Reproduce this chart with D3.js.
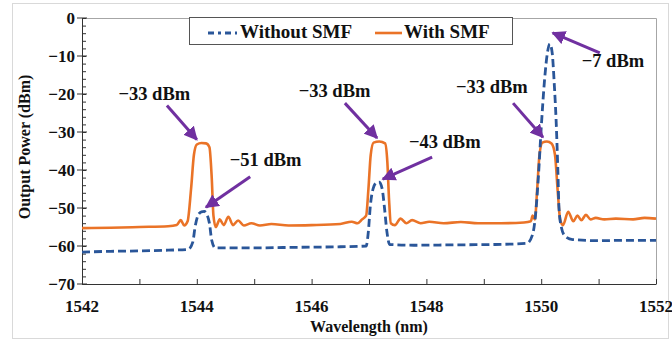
<!DOCTYPE html>
<html>
<head>
<meta charset="utf-8">
<script src="https://cdn.jsdelivr.net/npm/d3@7"></script>
</head>
<body style="margin:0;background:#fff">
<script>
// wavelengths (nm) and output power (dBm)
var blueWl = [1542.0,1542.5,1543.0,1543.5,1543.85,1543.93,1543.97,1544.02,1544.08,1544.13,1544.18,1544.22,1544.26,1544.32,
  1545.0,1545.5,1546.0,1546.5,1546.95,1546.99,1547.02,1547.07,1547.13,1547.18,1547.23,1547.27,1547.31,1547.36,
  1547.8,1548.5,1549.2,1549.75,1549.85,1549.9,1549.95,1550.0,1550.06,1550.11,1550.15,1550.19,1550.23,1550.26,1550.29,1550.31,1550.35,1550.42,1550.55,
  1551.0,1551.5,1552.0];
var bluePw = [-61.6,-61.4,-61.3,-61.1,-60.9,-59,-55,-52,-51.0,-50.9,-51.8,-54,-58.5,-60.5,
  -60.5,-60.4,-60.3,-60.2,-60.0,-56,-50,-45,-43.3,-43.2,-45,-50,-56,-59.6,
  -59.8,-59.7,-59.6,-59.3,-57,-52,-42,-29,-16,-9,-6.8,-9,-18,-27,-40,-50,-55,-57.5,-58.3,
  -58.6,-58.5,-58.5];

var orangeWl = [1542.0,1542.5,1543.0,1543.5,1543.65,1543.72,1543.78,1543.84,1543.9,1543.95,1544.0,1544.08,1544.16,1544.22,1544.26,1544.29,1544.33,
  1544.4,1544.47,1544.55,1544.63,1544.72,1544.82,1544.95,1545.1,1545.3,1545.6,1546.0,1546.5,1546.7,1546.8,1546.88,1546.95,
  1546.99,1547.03,1547.08,1547.18,1547.28,1547.32,1547.35,1547.38,1547.45,1547.55,1547.65,1547.75,1547.9,1548.05,1548.3,1548.6,1548.9,
  1549.3,1549.7,1549.82,1549.85,1549.89,1549.93,1549.97,1550.02,1550.1,1550.18,1550.24,1550.29,1550.33,1550.38,1550.47,1550.56,1550.63,
  1550.7,1550.78,1550.86,1550.95,1551.1,1551.3,1551.6,1551.8,1552.0];
var orangePw = [-55.3,-55.2,-55.0,-54.8,-54.5,-53.2,-54.6,-53.5,-45,-36,-33.3,-32.9,-33.0,-34,-42,-52,-55,
  -53,-54.5,-52.3,-54.5,-53.3,-54.6,-54.0,-54.6,-54.2,-54.6,-54.5,-54.2,-53.6,-54,-53,-52,
  -45,-36,-32.8,-32.5,-33,-38,-48,-54,-54.5,-52.8,-54.0,-53.2,-54,-53.6,-54,-53.7,-54,
  -54,-53.8,-53.5,-52,-53,-45,-36,-32.8,-32.5,-33,-36,-46,-53,-54.5,-51,-53.5,-52,
  -53.2,-51.8,-53,-52.6,-53,-52.8,-53,-52.6,-52.8];

var seriesNames = ["Without SMF", "With SMF"];
var xTicks = [1542, 1544, 1546, 1548, 1550, 1552];
var yTicks = [0, -10, -20, -30, -40, -50, -60, -70];

// peak annotations: label, label position, arrow tail, arrow tip (data units)
var notes = [
  {text: "\u221233 dBm", lx: 1543.26, ly: -21.6, tx: 1543.48, ty: -23.0, hx: 1544.0, hy: -32.0},
  {text: "\u221251 dBm", lx: 1545.2, ly: -39.0, tx: 1544.93, ty: -41.8, hx: 1544.16, hy: -49.8},
  {text: "\u221233 dBm", lx: 1546.4, ly: -20.8, tx: 1546.58, ty: -22.4, hx: 1547.14, hy: -31.6},
  {text: "\u221243 dBm", lx: 1548.32, ly: -34.2, tx: 1548.1, ty: -36.6, hx: 1547.24, hy: -42.4},
  {text: "\u221233 dBm", lx: 1549.14, ly: -19.7, tx: 1549.51, ty: -22.4, hx: 1550.03, hy: -31.4},
  {text: "\u22127 dBm", lx: 1551.25, ly: -12.9, tx: 1551.02, ty: -9.2, hx: 1550.2, hy: -3.9}
];

var FONT = "'Liberation Serif', 'Times New Roman', Times, serif";
var W = 672, H = 344;
var m = {left: 82, right: 16, top: 18, bottom: 60};

var svg = d3.select('body').append('svg').attr('width', W).attr('height', H)
  .attr('font-family', FONT).attr('font-weight', 'bold');

svg.append('rect').attr('x', 12.5).attr('y', 3.5).attr('width', 656).attr('height', 335)
  .attr('fill', 'none').attr('stroke', '#d9d9d9');

var x = d3.scaleLinear().domain([1542, 1552]).range([m.left, W - m.right]);
var y = d3.scaleLinear().domain([-70, 0]).range([H - m.bottom, m.top]);

function label(sel, size) {
  return sel.style('font-family', FONT).style('font-weight', 'bold')
    .style('font-size', size + 'px').attr('fill', '#111');
}

// plot frame (top and right)
svg.append('path')
  .attr('d', 'M' + x(1542) + ',' + (y(0) + 0.5) + 'H' + (x(1552) + 0.5) + 'V' + y(-70))
  .attr('fill', 'none').attr('stroke', '#a6a6a6');

// x axis
var xAxis = svg.append('g').attr('transform', 'translate(0,' + y(-70) + ')')
  .call(d3.axisBottom(x).tickValues(d3.range(1542, 1553, 1)).tickSizeInner(-5).tickSizeOuter(0).tickFormat(''));
xAxis.selectAll('line').attr('stroke', '#333');
xAxis.select('.domain').attr('stroke', '#333');
svg.append('g').selectAll('text').data(xTicks).join('text')
  .attr('x', d => x(d)).attr('y', y(-70) + 28)
  .attr('text-anchor', 'middle').call(label, 17).text(d => d);

// y axis
var yAxis = svg.append('g').attr('transform', 'translate(' + x(1542) + ',0)')
  .call(d3.axisLeft(y).tickValues(d3.range(-70, 1, 2)).tickSizeInner(-4).tickSizeOuter(0).tickFormat(''));
yAxis.selectAll('line').attr('stroke', '#333');
yAxis.select('.domain').attr('stroke', '#333');
svg.append('g').selectAll('line').data(yTicks).join('line')
  .attr('x1', x(1542) - 5).attr('x2', x(1542) + 5)
  .attr('y1', d => y(d)).attr('y2', d => y(d)).attr('stroke', '#333');
svg.append('g').selectAll('text').data(yTicks).join('text')
  .attr('x', x(1542) - 7).attr('y', d => y(d) + 6)
  .attr('text-anchor', 'end').call(label, 17).text(d => d3.format('d')(d));

svg.append('text').attr('transform', 'translate(30,' + ((y(0) + y(-70)) / 2 - 4) + ') rotate(-90)')
  .attr('text-anchor', 'middle').call(label, 16).text('Output Power (dBm)');
svg.append('text').attr('x', (x(1542) + x(1552)) / 2).attr('y', 332)
  .attr('text-anchor', 'middle').call(label, 16).text('Wavelength (nm)');

// curves
var line = d3.line().x(d => x(d[0])).y(d => y(d[1])).curve(d3.curveMonotoneX);
var blueData = d3.zip(blueWl, bluePw);
var orangeData = d3.zip(orangeWl, orangePw);

svg.append('path').datum(orangeData).attr('d', line)
  .attr('fill', 'none').attr('stroke', '#ea7327').attr('stroke-width', 2.6);
svg.append('path').datum(blueData).attr('d', line)
  .attr('fill', 'none').attr('stroke', '#2a5699').attr('stroke-width', 2.8)
  .attr('stroke-dasharray', '8,4');

// legend
var lg = svg.append('g');
lg.append('rect').attr('x', 189.5).attr('y', 17.5).attr('width', 323).attr('height', 27)
  .attr('fill', '#fff').attr('stroke', '#555');
lg.append('line').attr('x1', 208).attr('x2', 237).attr('y1', 33).attr('y2', 33)
  .attr('stroke', '#2a5699').attr('stroke-width', 2.8).attr('stroke-dasharray', '6,4,3,4');
lg.append('text').attr('x', 240).attr('y', 38).call(label, 19).text(seriesNames[0]);
lg.append('line').attr('x1', 375).attr('x2', 402).attr('y1', 33).attr('y2', 33)
  .attr('stroke', '#ea7327').attr('stroke-width', 2.6);
lg.append('text').attr('x', 404).attr('y', 38).call(label, 19).text(seriesNames[1]);

// annotations
var defs = svg.append('defs');
defs.append('marker').attr('id', 'ah').attr('viewBox', '0 0 10 10').attr('refX', 9).attr('refY', 5)
  .attr('markerWidth', 4.6).attr('markerHeight', 4.6).attr('orient', 'auto')
  .append('path').attr('d', 'M0,0L10,5L0,10z').attr('fill', '#7030a0');

var ann = svg.append('g').selectAll('g').data(notes).join('g');
ann.append('line')
  .attr('x1', d => x(d.tx)).attr('y1', d => y(d.ty))
  .attr('x2', d => x(d.hx)).attr('y2', d => y(d.hy))
  .attr('stroke', '#7030a0').attr('stroke-width', 3).attr('marker-end', 'url(#ah)');
ann.append('text').attr('x', d => x(d.lx)).attr('y', d => y(d.ly))
  .attr('text-anchor', 'middle').call(label, 18.5).text(d => d.text);
</script>
</body>
</html>
